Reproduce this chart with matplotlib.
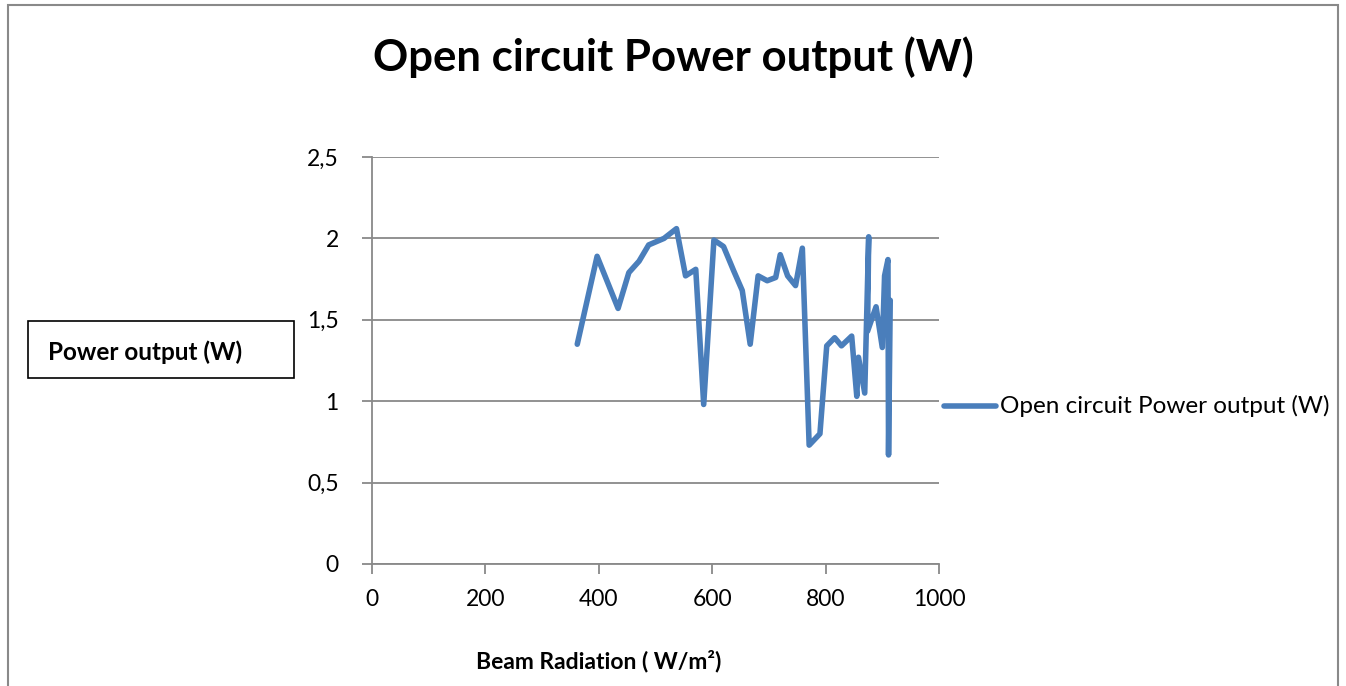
import matplotlib
matplotlib.use("Agg")
import matplotlib.pyplot as plt
from matplotlib.patches import Rectangle
from matplotlib.lines import Line2D
from matplotlib.ticker import FuncFormatter

# values
beam = [362, 397, 434, 453, 471, 488, 515, 537, 553, 571, 585, 603, 620, 638,
        653, 667, 681, 697, 712, 720, 733, 747, 759, 771, 790, 802, 816, 828,
        846, 855, 858, 869, 876, 874, 889, 900, 904, 910, 911, 914]
power = [1.35, 1.89, 1.57, 1.79, 1.86, 1.96, 2.00, 2.06, 1.77, 1.81, 0.98, 1.99,
         1.95, 1.80, 1.68, 1.35, 1.77, 1.74, 1.76, 1.90, 1.77, 1.71, 1.94, 0.73,
         0.80, 1.34, 1.39, 1.34, 1.40, 1.03, 1.27, 1.05, 2.01, 1.43, 1.58, 1.33,
         1.77, 1.87, 0.67, 1.62]

title = "Open circuit Power output (W)"
series_name = "Open circuit Power output (W)"
xlabel = "Beam Radiation ( W/m\u00b2)"
ylabel = "Power output (W)"
xticks = [0, 200, 400, 600, 800, 1000]
yticks = [0, 0.5, 1, 1.5, 2, 2.5]

line_color = "#4A7EBB"
grid_color = "#898989"
font = ["Lato", "DejaVu Sans"]

W, H = 1346, 686
fig = plt.figure(figsize=(W / 100, H / 100), dpi=100)
fig.patch.set_facecolor("white")

# outer chart frame
fig.patches.append(Rectangle((8 / W, -0.02), (1338 - 8) / W, 1 - 5 / H + 0.02,
                             transform=fig.transFigure, fill=False,
                             edgecolor=grid_color, linewidth=1.5))

ax = fig.add_axes([372 / W, 1 - 564 / H, (939 - 372) / W, (564 - 157) / H])
ax.plot(beam, power, color=line_color, linewidth=4.0,
        solid_joinstyle="round", solid_capstyle="round")

ax.set_xlim(0, 1000)
ax.set_ylim(0, 2.5)
ax.set_xticks(xticks)
ax.set_yticks(yticks)
ax.yaxis.set_major_formatter(FuncFormatter(lambda v, p: ("%g" % v).replace(".", ",")))
ax.grid(axis="y", color=grid_color, linewidth=1.3)
ax.set_axisbelow(True)
for s in ["top", "right"]:
    ax.spines[s].set_visible(False)
for s in ["left", "bottom"]:
    ax.spines[s].set_color(grid_color)
    ax.spines[s].set_linewidth(1.3)
ax.tick_params(axis="both", colors=grid_color, length=7, width=1.3,
               labelcolor="black", labelsize=16.5)
ax.tick_params(axis="x", pad=11)
ax.tick_params(axis="y", pad=17)
for lab in ax.get_xticklabels() + ax.get_yticklabels():
    lab.set_family(font)

fig.text(673 / W, 1 - 57 / H, title, ha="center", va="center",
         fontsize=31.5, fontweight="bold", family=font)
fig.text(599 / W, 1 - 661 / H, xlabel, ha="center", va="center",
         fontsize=16.5, fontweight="bold", family=font)

# boxed y label on the left
fig.patches.append(Rectangle((28 / W, 1 - 378 / H), (294 - 28) / W, (378 - 321) / H,
                             transform=fig.transFigure, fill=False,
                             edgecolor="black", linewidth=1.2))
fig.text(48 / W, 1 - 352 / H, ylabel, ha="left", va="center",
         fontsize=17.5, fontweight="bold", family=font)

# legend on the right
fig.lines.append(Line2D([944 / W, 996 / W], [1 - 406 / H, 1 - 406 / H],
                        transform=fig.transFigure, color=line_color,
                        linewidth=4.0, solid_capstyle="round"))
fig.text(1000 / W, 1 - 406 / H, series_name, ha="left", va="center",
         fontsize=17.5, family=font)

fig.savefig("out.png", dpi=100)
